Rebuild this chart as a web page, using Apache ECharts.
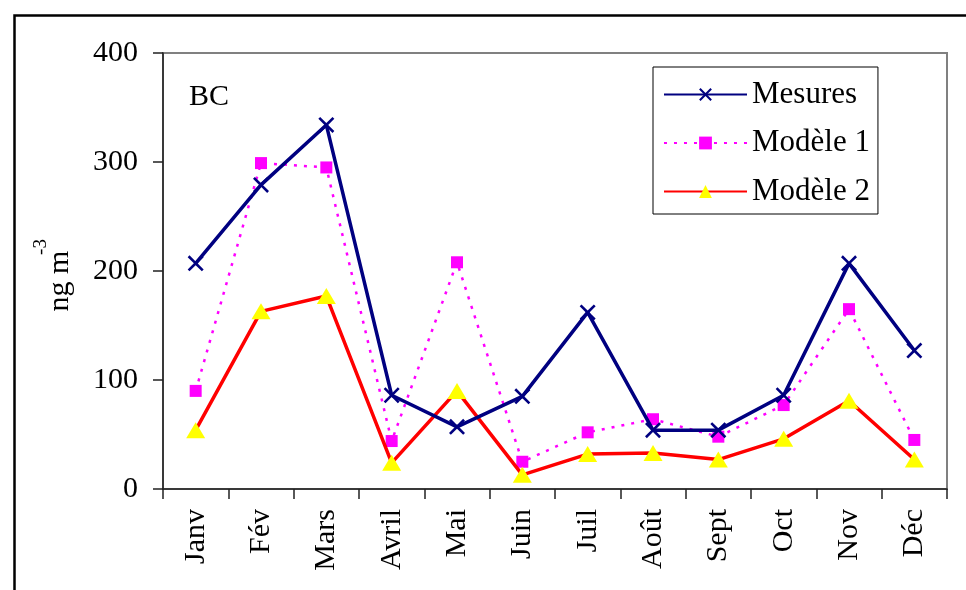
<!DOCTYPE html>
<html>
<head>
<meta charset="utf-8">
<script src="https://cdn.jsdelivr.net/npm/echarts@6/dist/echarts.min.js"></script>
<style>
  html, body { margin: 0; padding: 0; background: #fff; }
  #chart { width: 966px; height: 590px; }
</style>
</head>
<body>
<div id="chart"></div>
<script>
// Monthly black carbon concentrations (ng m-3): measurements vs two models
const months = ['Janv', 'Fév', 'Mars', 'Avril', 'Mai', 'Juin', 'Juil', 'Août', 'Sept', 'Oct', 'Nov', 'Déc'];
const mesures = [207, 279, 334, 86, 57, 85, 162, 54, 54, 86, 207, 127];
const modele1 = [90, 299, 295, 44, 208, 25, 52, 64, 48, 77, 165, 45];
const modele2 = [54, 163, 177, 24, 90, 13, 32, 33, 27, 46, 81, 27];
const yTicks = { min: 0, max: 400, step: 100 };

const FONT = '"Liberation Serif", "Times New Roman", serif';
const crossPath = 'path://M0,1.6L1.6,0L7,5.4L12.4,0L14,1.6L8.6,7L14,12.4L12.4,14L7,8.6L1.6,14L0,12.4L5.4,7Z';

const chart = echarts.init(document.getElementById('chart'), null, { renderer: 'canvas' });

chart.setOption({
  animation: false,
  backgroundColor: '#fff',
  textStyle: { fontFamily: FONT, color: '#000' },
  grid: {
    left: 163, top: 53, right: 19, bottom: 101,
    show: true, borderColor: '#808080', borderWidth: 2, backgroundColor: 'transparent'
  },
  graphic: [
    { type: 'rect', left: 12, top: 13, z: 0, silent: true,
      shape: { x: 0, y: 0, width: 1000, height: 700 },
      style: { fill: 'none', stroke: '#000', lineWidth: 2.5 } },
    { type: 'text', x: 189, y: 97, z: 10,
      style: { text: 'BC', font: '30px ' + FONT, fill: '#000', verticalAlign: 'middle' } },
    { type: 'text', x: 60, y: 281, rotation: Math.PI / 2, z: 10,
      style: { text: 'ng m', font: '30px ' + FONT, fill: '#000', align: 'center', verticalAlign: 'middle' } },
    { type: 'text', x: 41, y: 247, rotation: Math.PI / 2, z: 10,
      style: { text: '-3', font: '19px ' + FONT, fill: '#000', align: 'center', verticalAlign: 'middle' } }
  ],
  legend: {
    left: 653, top: 67,
    orient: 'vertical',
    itemWidth: 83, itemHeight: 16, itemGap: 17.5,
    padding: [12, 8, 7, 10],
    borderColor: '#000', borderWidth: 1,
    backgroundColor: '#fff',
    textStyle: { fontFamily: FONT, fontSize: 31, color: '#000' },
    data: ['Mesures', 'Modèle 1', 'Modèle 2']
  },
  xAxis: {
    type: 'category',
    data: months,
    boundaryGap: true,
    axisLine: { lineStyle: { color: '#222', width: 1.5 } },
    axisTick: { show: true, inside: false, length: 10, lineStyle: { color: '#222', width: 1.5 } },
    axisLabel: { rotate: 90, margin: 20, fontSize: 30, fontFamily: FONT, color: '#000', interval: 0 },
    splitLine: { show: false }
  },
  yAxis: {
    type: 'value',
    min: yTicks.min, max: yTicks.max, interval: yTicks.step,
    axisLine: { show: true, lineStyle: { color: '#222', width: 1.5 } },
    axisTick: { show: true, inside: false, length: 10, lineStyle: { color: '#222', width: 1.5 } },
    axisLabel: { margin: 25, fontSize: 30, fontFamily: FONT, color: '#000' },
    splitLine: { show: false }
  },
  series: [
    {
      name: 'Modèle 1', type: 'line', data: modele1, z: 3,
      symbol: 'rect', symbolSize: 12,
      lineStyle: { color: '#ff00ff', width: 2.5, type: [3, 7] },
      itemStyle: { color: '#ff00ff' }
    },
    {
      name: 'Modèle 2', type: 'line', data: modele2, z: 4,
      symbol: 'triangle', symbolSize: [19, 16],
      lineStyle: { color: '#ff0000', width: 3.5 },
      itemStyle: { color: '#ffff00' }
    },
    {
      name: 'Mesures', type: 'line', data: mesures, z: 5,
      symbol: crossPath, symbolSize: 16,
      lineStyle: { color: '#000080', width: 3.5 },
      itemStyle: { color: '#000080' }
    }
  ]
});
</script>
</body>
</html>
